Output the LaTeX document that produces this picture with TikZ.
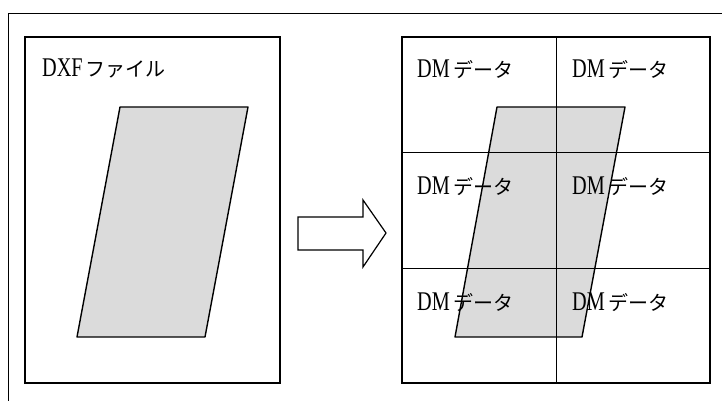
\documentclass[tikz,border=0pt]{standalone}
\usepackage{fontspec}
\setmainfont{Liberation Serif}
\newfontfamily\latfont{Liberation Serif}[FakeStretch=0.75]
\newfontfamily\jpfont{Noto Sans CJK JP}
\begin{document}
\begin{tikzpicture}[x=1pt,y=-1pt,
  boxline/.style={draw=black,line width=1.3pt},
  gridline/.style={draw=black,line width=1pt},
  shapefill/.style={fill=black!14},
  shapeline/.style={draw=black,line width=1.4pt,line join=round},
  lbl/.style={anchor=base west,inner sep=0pt,text=black},
]
\useasboundingbox (0,0) rectangle (722,401);
\newcommand{\dxflabel}{{\fontsize{27}{27}\latfont DXF}\hspace{3pt}{\fontsize{20}{20}\jpfont ファイル}}
\newcommand{\dmlabel}{{\fontsize{27}{27}\latfont DM}\hspace{4pt}{\fontsize{20}{20}\jpfont データ}}
% outer frame
\coordinate (frtop) at (8,14);
\coordinate (frright) at (722,14);
\coordinate (frbot) at (8,401);
\draw[line width=1pt] (frright) -- (frtop) -- (frbot);
% left box
\node (leftbox) [boxline,minimum width=255pt,minimum height=346pt,inner sep=0pt] at (152.5,210) {};
\path[shapefill] (120,107) -- (248,107) -- (205,337) -- (77,337) -- cycle;
\draw[shapeline] (120,107) -- (248,107) -- (205,337) -- (77,337) -- cycle;
\node (dxf) [lbl] at (42,77) {\dxflabel};
% arrow
\draw[line width=1.2pt,line join=miter] (298,217) -- (363,217) -- (363,200) -- (386,233) -- (363,267) -- (363,250) -- (298,250) -- cycle;
% right grid
\node (rightbox) [boxline,fill=white,minimum width=308pt,minimum height=346pt,inner sep=0pt] at (556,210) {};
\path[shapefill] (497,107) -- (625,107) -- (582,337) -- (455,337) -- cycle;
\node (dm11) [lbl] at (417,78) {\dmlabel};
\node (dm12) [lbl] at (572,78) {\dmlabel};
\node (dm21) [lbl] at (417,194) {\dmlabel};
\node (dm22) [lbl] at (572,194) {\dmlabel};
\node (dm31) [lbl] at (417,310) {\dmlabel};
\node (dm32) [lbl] at (572,310) {\dmlabel};
\draw[gridline] (rightbox.north) -- (rightbox.south);
\draw[gridline] (402,152) -- (710,152);
\draw[gridline] (402,268) -- (710,268);
\draw[shapeline] (497,107) -- (625,107) -- (582,337) -- (455,337) -- cycle;
\draw[boxline] (rightbox.north west) rectangle (rightbox.south east);
\end{tikzpicture}
\end{document}
